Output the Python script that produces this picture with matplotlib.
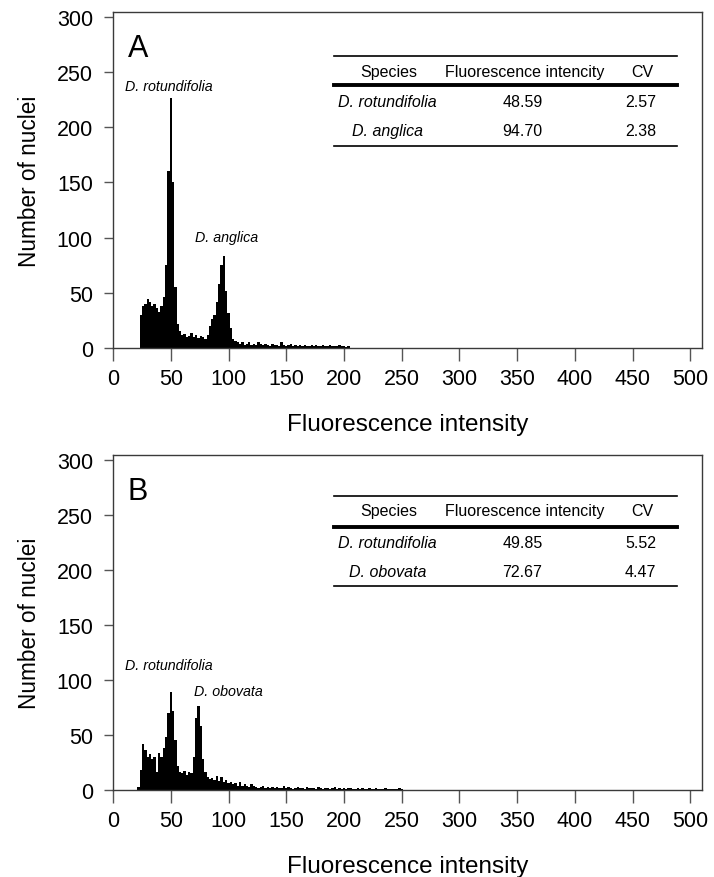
import numpy as np
import matplotlib
matplotlib.use("Agg")
import matplotlib.pyplot as plt

plt.rcParams['font.family'] = ['Liberation Sans', 'DejaVu Sans']

# ---------------- data ----------------
bins_a = np.arange(24, 206, 2)
counts_a = [30, 38, 40, 44, 42, 38, 40, 36, 33, 38,
            46, 75, 160, 227, 150, 55, 22, 15, 12, 13,
            10, 11, 14, 10, 12, 9, 11, 10, 8, 12,
            20, 26, 30, 42, 58, 75, 83, 52, 32, 18,
            8, 6, 5, 4, 5, 3, 4, 5, 3, 4,
            3, 5, 4, 3, 4, 3, 2, 4, 3, 3,
            2, 5, 3, 2, 3, 4, 2, 3, 2, 3,
            2, 3, 2, 2, 3, 2, 3, 2, 2, 3,
            2, 2, 3, 2, 2, 2, 3, 2, 2, 1, 2]

bins_b = np.arange(22, 252, 2)
counts_b = [3, 18, 42, 36, 30, 33, 28, 30, 16, 34,
            30, 38, 48, 70, 89, 72, 45, 22, 16, 15,
            17, 14, 16, 15, 30, 65, 76, 58, 28, 16,
            12, 10, 11, 9, 13, 8, 12, 7, 9, 6,
            7, 5, 6, 4, 7, 4, 5, 4, 3, 5,
            4, 3, 2, 3, 4, 2, 3, 2, 3, 2,
            3, 2, 2, 4, 2, 3, 2, 1, 2, 3,
            2, 2, 1, 3, 2, 2, 2, 1, 3, 2,
            1, 2, 2, 1, 2, 3, 1, 2, 1, 2,
            1, 2, 2, 1, 1, 2, 1, 2, 1, 1,
            2, 1, 1, 2, 1, 1, 1, 2, 1, 1,
            1, 1, 1, 2, 1]

species_a = ["D. rotundifolia", "D. anglica"]
fluor_a = ["48.59", "94.70"]
cv_a = ["2.57", "2.38"]

species_b = ["D. rotundifolia", "D. obovata"]
fluor_b = ["49.85", "72.67"]
cv_b = ["5.52", "4.47"]

header = ["Species", "Fluorescence intencity", "CV"]
x_ticks = [0, 50, 100, 150, 200, 250, 300, 350, 400, 450, 500]
y_ticks = [0, 50, 100, 150, 200, 250, 300]

assert len(bins_a) == len(counts_a), (len(bins_a), len(counts_a))
assert len(bins_b) == len(counts_b), (len(bins_b), len(counts_b))

# ---------------- figure ----------------
fig = plt.figure(figsize=(7.14, 8.78), dpi=100)
ax_a = fig.add_axes([0.1583, 0.6025, 0.8249, 0.3827])
ax_b = fig.add_axes([0.1583, 0.0991, 0.8249, 0.3816])

spine_col = '#3a3a3a'


def style(ax):
    ax.set_xlim(0, 510)
    ax.set_ylim(0, 304.5)
    ax.set_xticks(x_ticks)
    ax.set_yticks(y_ticks)
    for s in ax.spines.values():
        s.set_color(spine_col)
        s.set_linewidth(1.0)
    ax.tick_params(axis='x', length=9, width=1, color='#555555',
                   labelsize=15.5, pad=5.5)
    ax.tick_params(axis='y', length=6.5, width=1, color='#555555',
                   labelsize=15.5, pad=8)
    ax.set_xlabel("Fluorescence intensity", fontsize=17.5, labelpad=17)
    ax.set_ylabel("Number of nuclei", fontsize=16.3, labelpad=11)


def table(ax, ys, species, fluor, cv):
    top, head, thick, r1, r2, bot = ys
    x0, x1 = 0.375, 0.9576
    tr = ax.transAxes
    ax.plot([x0, x1], [top, top], color='black', lw=1.2, transform=tr)
    ax.plot([x0, x1], [thick, thick], color='black', lw=2.8, transform=tr)
    ax.plot([x0, x1], [bot, bot], color='black', lw=1.2, transform=tr)
    cols = [0.4686, 0.6995, 0.898]
    for c, h in zip(cols, header):
        ax.text(c, head, h, transform=tr, ha='center', va='center', fontsize=11.5)
    for y, sp, fl, c in zip([r1, r2], species, fluor, cv):
        ax.text(0.466, y, sp, transform=tr, ha='center', va='center',
                fontsize=11.5, style='italic')
        ax.text(0.695, y, fl, transform=tr, ha='center', va='center', fontsize=11.5)
        ax.text(0.896, y, c, transform=tr, ha='center', va='center', fontsize=11.5)


# Panel A
ax_a.bar(bins_a, counts_a, width=2, color='black', edgecolor='none', align='center')
style(ax_a)
ax_a.text(0.025, 0.893, "A", transform=ax_a.transAxes, fontsize=22,
          ha='left', va='center')
ax_a.text(48.5, 237.5, "D. rotundifolia", fontsize=10.3, style='italic',
          ha='center', va='center')
ax_a.text(98, 100.5, "D. anglica", fontsize=10.3, style='italic',
          ha='center', va='center')
table(ax_a, [0.869, 0.824, 0.783, 0.735, 0.646, 0.601], species_a, fluor_a, cv_a)

# Panel B
ax_b.bar(bins_b, counts_b, width=2, color='black', edgecolor='none', align='center')
style(ax_b)
ax_b.text(0.025, 0.893, "B", transform=ax_b.transAxes, fontsize=22,
          ha='left', va='center')
ax_b.text(48.5, 114, "D. rotundifolia", fontsize=10.3, style='italic',
          ha='center', va='center')
ax_b.text(100, 90, "D. obovata", fontsize=10.3, style='italic',
          ha='center', va='center')
table(ax_b, [0.878, 0.833, 0.785, 0.740, 0.651, 0.609], species_b, fluor_b, cv_b)

fig.savefig("out.png", dpi=100)
